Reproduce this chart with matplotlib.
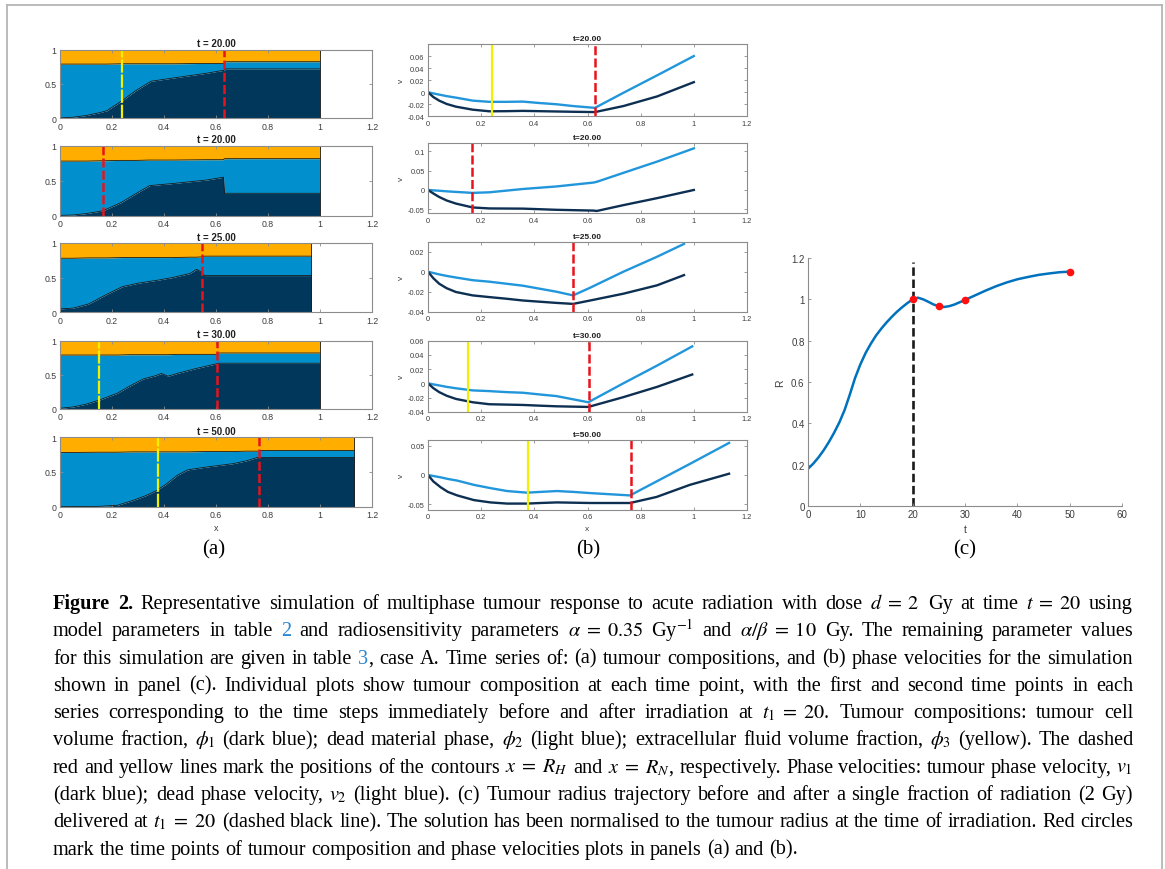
import re
import numpy as np
import matplotlib
matplotlib.use('Agg')
import matplotlib.pyplot as plt
from matplotlib.lines import Line2D
from matplotlib.transforms import IdentityTransform
from matplotlib.ticker import FuncFormatter

W, H, DPI = 1165, 870, 100
plt.rcParams['font.family'] = ['Liberation Sans', 'DejaVu Sans']
plt.rcParams['mathtext.fontset'] = 'stix'
SERIF = ['Liberation Serif', 'DejaVu Serif']

# ---------------- data: panel (a) tumour compositions ----------------
a_titles = ['t = 20.00', 't = 20.00', 't = 25.00', 't = 30.00', 't = 50.00']
a_x = [
    [0, 0.05, 0.1, 0.15, 0.18, 0.24, 0.29, 0.35, 0.44, 0.56, 0.63, 0.64, 1.0],
    [0, 0.05, 0.1, 0.165, 0.236, 0.294, 0.345, 0.435, 0.564, 0.629, 0.633, 1.0],
    [0, 0.05, 0.11, 0.18, 0.24, 0.30, 0.37, 0.43, 0.50, 0.525, 0.545, 0.556, 0.967],
    [0, 0.05, 0.10, 0.15, 0.22, 0.27, 0.32, 0.37, 0.39, 0.415, 0.46, 0.52, 0.60, 0.61, 1.0],
    [0, 0.15, 0.22, 0.28, 0.33, 0.37, 0.41, 0.45, 0.49, 0.56, 0.665, 0.715, 0.76, 0.77, 1.132],
]
a_phi1 = [
    [0.005, 0.015, 0.04, 0.08, 0.11, 0.26, 0.40, 0.54, 0.59, 0.655, 0.70, 0.72, 0.72],
    [0.005, 0.01, 0.03, 0.07, 0.19, 0.32, 0.43, 0.46, 0.51, 0.55, 0.32, 0.32],
    [0.05, 0.06, 0.12, 0.26, 0.37, 0.42, 0.46, 0.50, 0.56, 0.62, 0.58, 0.53, 0.53],
    [0.01, 0.03, 0.07, 0.13, 0.23, 0.34, 0.44, 0.49, 0.52, 0.48, 0.53, 0.59, 0.66, 0.67, 0.67],
    [0.0, 0.005, 0.02, 0.09, 0.16, 0.23, 0.33, 0.45, 0.53, 0.57, 0.62, 0.66, 0.71, 0.71, 0.71],
]
a_phi12 = [
    [0.79, 0.79, 0.79, 0.79, 0.79, 0.795, 0.795, 0.795, 0.795, 0.80, 0.80, 0.825, 0.825],
    [0.78, 0.78, 0.78, 0.785, 0.79, 0.79, 0.795, 0.795, 0.80, 0.80, 0.815, 0.815],
    [0.78, 0.78, 0.785, 0.785, 0.79, 0.79, 0.79, 0.79, 0.795, 0.795, 0.80, 0.81, 0.81],
    [0.79, 0.79, 0.79, 0.79, 0.79, 0.795, 0.795, 0.795, 0.795, 0.795, 0.80, 0.80, 0.80, 0.82, 0.82],
    [0.78, 0.785, 0.785, 0.79, 0.79, 0.79, 0.79, 0.79, 0.79, 0.795, 0.795, 0.80, 0.80, 0.81, 0.81],
]
a_yellow = [0.24, None, None, 0.15, 0.375]
a_red = [0.63, 0.165, 0.545, 0.605, 0.765]

# ---------------- data: panel (b) phase velocities ----------------
b_titles = ['t=20.00', 't=20.00', 't=25.00', 't=30.00', 't=50.00']
b_x = [
    [0, 0.02, 0.042, 0.07, 0.105, 0.168, 0.231, 0.294, 0.357, 0.42, 0.483, 0.546, 0.628, 0.735, 0.862, 1.0],
    [0, 0.02, 0.042, 0.07, 0.105, 0.168, 0.231, 0.357, 0.483, 0.622, 0.635, 0.735, 0.862, 1.0],
    [0, 0.02, 0.042, 0.07, 0.105, 0.168, 0.231, 0.294, 0.357, 0.42, 0.483, 0.546, 0.61, 0.735, 0.862, 0.963],
    [0, 0.02, 0.042, 0.07, 0.105, 0.168, 0.231, 0.294, 0.357, 0.42, 0.483, 0.603, 0.735, 0.862, 0.994],
    [0, 0.02, 0.0475, 0.075, 0.11, 0.1725, 0.235, 0.2975, 0.3725, 0.4225, 0.485, 0.5475, 0.61, 0.76, 0.86, 0.985, 1.1325],
]
b_v2 = [  # dead phase velocity (light blue)
    [0, -0.002, -0.004, -0.0065, -0.009, -0.014, -0.016, -0.016, -0.0156, -0.018, -0.020, -0.023, -0.026, -0.001, 0.028, 0.060],
    [0, -0.001, -0.002, -0.0035, -0.005, -0.0075, -0.006, 0.0025, 0.009, 0.019, 0.021, 0.044, 0.073, 0.107],
    [0, -0.0013, -0.0027, -0.0042, -0.0058, -0.0085, -0.010, -0.012, -0.014, -0.017, -0.020, -0.0237, -0.016, 0.0, 0.015, 0.0278],
    [0, -0.0015, -0.003, -0.005, -0.007, -0.010, -0.011, -0.0124, -0.0133, -0.0157, -0.018, -0.0267, 0.0, 0.025, 0.052],
    [0, -0.0017, -0.004, -0.0068, -0.0096, -0.0169, -0.0225, -0.0275, -0.0303, -0.029, -0.0275, -0.029, -0.031, -0.035, -0.011, 0.019, 0.055],
]
b_v1 = [  # tumour phase velocity (dark blue)
    [0, -0.008, -0.014, -0.0195, -0.024, -0.029, -0.0317, -0.0315, -0.031, -0.0315, -0.032, -0.0325, -0.033, -0.023, -0.007, 0.0167],
    [0, -0.009, -0.018, -0.027, -0.035, -0.045, -0.0475, -0.048, -0.051, -0.053, -0.054, -0.039, -0.021, 0.0],
    [0, -0.0065, -0.012, -0.0165, -0.0203, -0.0237, -0.0254, -0.027, -0.0288, -0.030, -0.0312, -0.0322, -0.0288, -0.022, -0.0136, -0.0034],
    [0, -0.0068, -0.0124, -0.0175, -0.022, -0.0267, -0.0295, -0.030, -0.0305, -0.0315, -0.0324, -0.0333, -0.0195, -0.005, 0.0124],
    [0, -0.011, -0.021, -0.029, -0.035, -0.043, -0.047, -0.049, -0.049, -0.048, -0.047, -0.0475, -0.048, -0.048, -0.0376, -0.0169, 0.0022],
]
b_ylims = [(-0.04, 0.08), (-0.06, 0.12), (-0.04, 0.03), (-0.04, 0.06), (-0.06, 0.06)]
b_yticks = [
    [-0.04, -0.02, 0, 0.02, 0.04, 0.06],
    [-0.05, 0, 0.05, 0.1],
    [-0.04, -0.02, 0, 0.02],
    [-0.04, -0.02, 0, 0.02, 0.04, 0.06],
    [-0.05, 0, 0.05],
]

# ---------------- data: panel (c) tumour radius ----------------
c_t = [0, 1, 2, 3, 4, 5, 6, 7, 8, 9, 10, 11, 12, 13, 14, 15, 16, 17, 18, 19, 20,
       21, 22, 23, 24, 25, 26, 27, 28, 29, 30, 32, 34, 36, 38, 40, 42, 44, 46, 48, 50]
c_R = [0.18, 0.205, 0.235, 0.27, 0.31, 0.355, 0.405, 0.465, 0.54, 0.62, 0.685, 0.74,
       0.785, 0.825, 0.858, 0.888, 0.915, 0.94, 0.962, 0.982, 1.0,
       1.008, 1.0, 0.988, 0.975, 0.967, 0.963, 0.967, 0.975, 0.986, 0.997, 1.02, 1.043,
       1.064, 1.082, 1.097, 1.108, 1.118, 1.125, 1.131, 1.134]
c_mark_t = [20, 25, 30, 50]
c_mark_R = [1.0, 0.967, 0.997, 1.134]
c_irr_t = 20
c_irr_top = 1.18

EQ = r'\;=\;'
caption = [
    "*Figure *2. Representative simulation of multiphase tumour response to acute radiation with dose $d" + EQ + "2$ Gy at time $t" + EQ + "20$ using",
    "model parameters in table [2] and radiosensitivity parameters $\\alpha" + EQ + "0.35$ Gy$^{-1}$ and $\\alpha/\\beta" + EQ + "10$ Gy. The remaining parameter values",
    "for this simulation are given in table [3], case A. Time series of: (a) tumour compositions, and (b) phase velocities for the simulation",
    "shown in panel (c). Individual plots show tumour composition at each time point, with the first and second time points in each",
    "series corresponding to the time steps immediately before and after irradiation at $t_1" + EQ + "20$. Tumour compositions: tumour cell",
    "volume fraction, $\\phi_1$ (dark blue); dead material phase, $\\phi_2$ (light blue); extracellular fluid volume fraction, $\\phi_3$ (yellow). The dashed",
    "red and yellow lines mark the positions of the contours $x" + EQ + "R_H$ and $x" + EQ + "R_N$, respectively. Phase velocities: tumour phase velocity, $v_1$",
    "(dark blue); dead phase velocity, $v_2$ (light blue). (c) Tumour radius trajectory before and after a single fraction of radiation (2 Gy)",
    "delivered at $t_1" + EQ + "20$ (dashed black line). The solution has been normalised to the tumour radius at the time of irradiation. Red circles",
    "mark the time points of tumour composition and phase velocities plots in panels (a) and (b).",
]

DARK = '#01375b'
LIGHT = '#0190cd'
ORANGE = '#ffae00'
LINE_LIGHT = '#2196db'
LINE_DARK = '#0d2f52'
LINK = '#2a86d0'
AX_COL = '#8c8c8c'
LBL_COL = '#3c3c3c'

fig = plt.figure(figsize=(W / DPI, H / DPI), dpi=DPI)
renderer = fig.canvas.get_renderer()


def px_axes(left, top, right, bottom):
    return fig.add_axes([left / W, 1 - bottom / H, (right - left) / W, (bottom - top) / H])


gfmt = FuncFormatter(lambda v, p: '%g' % round(v, 6))


def matlab_style(ax, fs, box=True):
    for s in ax.spines.values():
        s.set_color(AX_COL)
        s.set_linewidth(0.8)
    if not box:
        ax.spines['top'].set_visible(False)
        ax.spines['right'].set_visible(False)
    ax.tick_params(direction='in', length=2.5, width=0.6, colors=AX_COL,
                   labelcolor=LBL_COL, labelsize=fs, top=box, right=box, pad=2.5)
    ax.xaxis.set_major_formatter(gfmt)
    ax.yaxis.set_major_formatter(gfmt)


# ---------------- panel (a) ----------------
a_rows = [(50.7, 119.3), (146.7, 216.7), (244, 313.3), (341.7, 410), (438.3, 507.7)]
for i, (top, bot) in enumerate(a_rows):
    ax = px_axes(60, top, 372, bot)
    x = np.array(a_x[i])
    p1 = np.array(a_phi1[i])
    p12 = np.array(a_phi12[i])
    ax.fill_between(x, 0, p1, color=DARK, lw=0)
    ax.fill_between(x, p1, p12, color=LIGHT, lw=0)
    ax.fill_between(x, p12, 1, color=ORANGE, lw=0)
    ax.plot(x, p1, color='#1a1a1a', lw=0.6)
    ax.plot(x, p12, color='#1a1a1a', lw=0.6)
    ax.plot([x[-1], x[-1]], [0, 1], color='#1a1a1a', lw=0.6)
    if a_yellow[i] is not None:
        ax.axvline(a_yellow[i], color='#f0f000', lw=1.6, ls=(0, (6, 0.8)))
    ax.axvline(a_red[i], color='#e8141c', lw=1.8, ls=(0, (3.6, 1.3)))
    ax.set_xlim(0, 1.2)
    ax.set_ylim(0, 1)
    ax.set_xticks(np.arange(0, 1.21, 0.2))
    ax.set_yticks([0, 0.5, 1])
    matlab_style(ax, 6.3)
    ax.set_title(a_titles[i], fontsize=7, fontweight='bold', pad=2.5, color='#202020')
    if i == len(a_rows) - 1:
        ax.set_xlabel('x', fontsize=6.5, color=LBL_COL, labelpad=3)

# ---------------- panel (b) ----------------
b_rows = [(45, 117.3), (144.3, 214.3), (242.7, 312.7), (341.7, 412.7), (441, 511)]
for i, (top, bot) in enumerate(b_rows):
    ax = px_axes(428, top, 747, bot)
    ax.plot(b_x[i], b_v2[i], color=LINE_LIGHT, lw=1.7)
    ax.plot(b_x[i], b_v1[i], color=LINE_DARK, lw=1.7)
    if a_yellow[i] is not None:
        ax.axvline(a_yellow[i], color='#f0f000', lw=1.6)
    ax.axvline(a_red[i], color='#e8141c', lw=1.8, ls=(0, (3.6, 1.3)))
    ax.set_xlim(0, 1.2)
    ax.set_ylim(*b_ylims[i])
    ax.set_xticks(np.arange(0, 1.21, 0.2))
    ax.set_yticks(b_yticks[i])
    matlab_style(ax, 5.3)
    ax.set_title(b_titles[i], fontsize=6, fontweight='bold', pad=3, color='#202020')
    ax.set_ylabel('v', fontsize=6, color=LBL_COL, labelpad=2)
    if i == len(b_rows) - 1:
        ax.set_xlabel('x', fontsize=6, color=LBL_COL, labelpad=3)

# ---------------- panel (c) ----------------
ax = px_axes(808, 259, 1122, 507)
ax.plot(c_t, c_R, color='#0072bd', lw=1.8, zorder=2)
ax.vlines(c_irr_t, 0, c_irr_top, colors='#1a1a1a', lw=1.9, linestyles=(0, (3.2, 1.4)), zorder=1)
ax.plot(c_mark_t, c_mark_R, 'o', color='#ff1010', ms=4.5, zorder=3)
ax.set_xlim(0, 60)
ax.set_ylim(0, 1.2)
ax.set_xticks(np.arange(0, 61, 10))
ax.set_yticks(np.arange(0, 1.21, 0.2))
matlab_style(ax, 7, box=False)
ax.set_xlabel('t', fontsize=7.5, color=LBL_COL, labelpad=3)
ax.set_ylabel('R', fontsize=7.5, color=LBL_COL, labelpad=4)

# ---------------- panel letters ----------------
for lab, xc in [('(a)', 214), ('(b)', 588), ('(c)', 965)]:
    fig.text(xc, H - 550, lab, transform=IdentityTransform(), fontsize=15,
             family=SERIF, ha='center', va='center')

# ---------------- caption (justified) ----------------
CAP_FS = 14.6
cap_left, cap_right = 53, 1133
cap_top, cap_step = 609, 27.3


def cap_segments(tok):
    bold = tok.startswith('*')
    if bold:
        tok = tok[1:]
    segs = []
    for part in re.split(r'(\[[^\]]*\])', tok):
        if not part:
            continue
        if part.startswith('['):
            segs.append((part[1:-1], LINK))
        else:
            segs.append((part, 'black'))
    return bold, segs


probe = fig.text(0, 0, 'a a', fontsize=CAP_FS, family=SERIF, transform=IdentityTransform())
probe2 = fig.text(0, 0, 'aa', fontsize=CAP_FS, family=SERIF, transform=IdentityTransform())
space_w = probe.get_window_extent(renderer).width - probe2.get_window_extent(renderer).width
probe.remove()
probe2.remove()

for i, line in enumerate(caption):
    yb = H - (cap_top + i * cap_step)
    words = []
    for tok in line.split(' '):
        bold, segs = cap_segments(tok)
        arts = []
        for s, c in segs:
            t = fig.text(0, yb, s, transform=IdentityTransform(), fontsize=CAP_FS,
                         color=c, fontweight='bold' if bold else 'normal',
                         family=SERIF, ha='left', va='baseline')
            arts.append((t, t.get_window_extent(renderer).width))
        words.append(arts)
    widths = [sum(w for _, w in arts) for arts in words]
    if i < len(caption) - 1:
        gap = (cap_right - cap_left - sum(widths)) / (len(words) - 1)
    else:
        gap = space_w
    xx = cap_left
    for arts in words:
        for t, w in arts:
            t.set_x(xx)
            xx += w
        xx += gap

# ---------------- frame ----------------
for xs, ys in [([7, 1162], [H - 6, H - 6]), ([7, 7], [0, H - 6]), ([1162, 1162], [0, H - 6])]:
    fig.add_artist(Line2D(xs, ys, transform=IdentityTransform(), color='#b5b5b5', lw=1.3))

fig.savefig('out.png', dpi=DPI)
